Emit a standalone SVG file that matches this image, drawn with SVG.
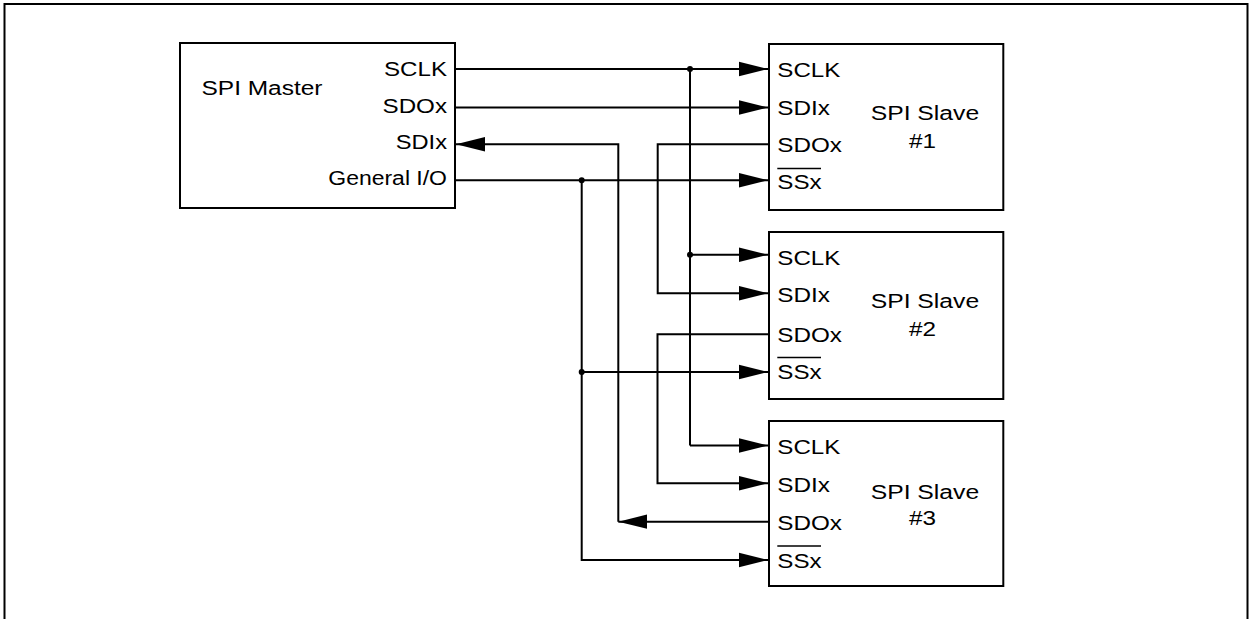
<svg xmlns="http://www.w3.org/2000/svg" width="1251" height="619" viewBox="0 0 1251 619">
<style>
  .box { fill: #ffffff; stroke: #000000; stroke-width: 2; }
  .frame { fill: none; stroke: #000000; stroke-width: 2; }
  .t { font-family: "Liberation Sans", Arial, Helvetica, sans-serif; font-size: 20px; fill: #000000; }
  .w { fill: none; stroke: #000000; stroke-width: 2; stroke-linejoin: miter; }
  .arr { fill: none; stroke: #000000; stroke-width: 2; marker-end: url(#ah); }
  .ov { stroke: #000000; stroke-width: 1.6; }
  .dot { fill: #000000; }
</style>
<defs>
  <marker id="ah" markerUnits="userSpaceOnUse" markerWidth="30" markerHeight="16" viewBox="0 0 30 16" refX="29" refY="8" orient="auto">
    <path d="M0,0.8 L29,8 L0,15.2 z" fill="#000000"/>
  </marker>
</defs>
<rect width="1251" height="619" fill="#ffffff"/>
<rect class="frame" x="4.5" y="4" width="1243" height="640"/>

<g id="connectors">
  <!-- SCLK bus -->
  <path class="arr" d="M455,69 H768"/>
  <path class="w" d="M690,69 V445.5"/>
  <path class="arr" d="M690,254.7 H768"/>
  <path class="arr" d="M690,445.5 H768"/>
  <circle class="dot" cx="690" cy="69" r="3"/>
  <circle class="dot" cx="690" cy="254.7" r="3"/>
  <!-- Master SDOx to Slave1 SDIx -->
  <path class="arr" d="M455,107.5 H768"/>
  <!-- Slave1 SDOx to Slave2 SDIx -->
  <path class="arr" d="M769,144.3 H657.7 V293.3 H768"/>
  <!-- Slave2 SDOx to Slave3 SDIx -->
  <path class="arr" d="M769,334.3 H657.5 V483.3 H768"/>
  <!-- Slave3 SDOx back to Master SDIx -->
  <path class="arr" d="M769,521.7 H618.3"/>
  <path class="arr" d="M618.3,521.7 V144.3 H456"/>
  <!-- General I/O to SSx -->
  <path class="arr" d="M455,180.3 H768"/>
  <path class="w" d="M581.7,180.3 V560 H620"/>
  <path class="arr" d="M581.7,560 H768"/>
  <path class="arr" d="M581.7,372 H768"/>
  <circle class="dot" cx="581.7" cy="180.3" r="3"/>
  <circle class="dot" cx="581.7" cy="372" r="3"/>
</g>

<g id="master">
  <rect class="box" x="180" y="43" width="275" height="165"/>
  <text class="t" x="201.5" y="95" textLength="121" lengthAdjust="spacingAndGlyphs">SPI Master</text>
  <text class="t" x="384" y="76" textLength="63" lengthAdjust="spacingAndGlyphs">SCLK</text>
  <text class="t" x="382.5" y="112.5" textLength="64.5" lengthAdjust="spacingAndGlyphs">SDOx</text>
  <text class="t" x="395.7" y="149" textLength="51.3" lengthAdjust="spacingAndGlyphs">SDIx</text>
  <text class="t" x="328.3" y="185" textLength="118.7" lengthAdjust="spacingAndGlyphs">General I/O</text>
</g>

<g id="slave1">
  <rect class="box" x="769" y="44" width="234.3" height="166"/>
  <text class="t" x="777.3" y="76.7" textLength="63" lengthAdjust="spacingAndGlyphs">SCLK</text>
  <text class="t" x="777.3" y="115" textLength="52.7" lengthAdjust="spacingAndGlyphs">SDIx</text>
  <text class="t" x="777.3" y="152.3" textLength="64.7" lengthAdjust="spacingAndGlyphs">SDOx</text>
  <text class="t" x="777.3" y="189.3" textLength="44.3" lengthAdjust="spacingAndGlyphs">SSx</text>
  <line class="ov" x1="777.3" y1="168.5" x2="821" y2="168.5"/>
  <text class="t" x="870.7" y="119.5" textLength="108.5" lengthAdjust="spacingAndGlyphs">SPI Slave</text>
  <text class="t" x="909" y="147.5" textLength="27" lengthAdjust="spacingAndGlyphs">#1</text>
</g>

<g id="slave2">
  <rect class="box" x="769" y="232" width="234.3" height="167"/>
  <text class="t" x="777.3" y="265" textLength="63" lengthAdjust="spacingAndGlyphs">SCLK</text>
  <text class="t" x="777.3" y="302.3" textLength="52.7" lengthAdjust="spacingAndGlyphs">SDIx</text>
  <text class="t" x="777.3" y="342.3" textLength="64.7" lengthAdjust="spacingAndGlyphs">SDOx</text>
  <text class="t" x="777.3" y="379.3" textLength="44.3" lengthAdjust="spacingAndGlyphs">SSx</text>
  <line class="ov" x1="777.3" y1="357.5" x2="821" y2="357.5"/>
  <text class="t" x="870.7" y="307.8" textLength="108.5" lengthAdjust="spacingAndGlyphs">SPI Slave</text>
  <text class="t" x="909" y="336" textLength="27" lengthAdjust="spacingAndGlyphs">#2</text>
</g>

<g id="slave3">
  <rect class="box" x="769" y="421" width="234.3" height="165"/>
  <text class="t" x="777.3" y="454.3" textLength="63" lengthAdjust="spacingAndGlyphs">SCLK</text>
  <text class="t" x="777.3" y="491.7" textLength="52.7" lengthAdjust="spacingAndGlyphs">SDIx</text>
  <text class="t" x="777.3" y="530" textLength="64.7" lengthAdjust="spacingAndGlyphs">SDOx</text>
  <text class="t" x="777.3" y="567.7" textLength="44.3" lengthAdjust="spacingAndGlyphs">SSx</text>
  <line class="ov" x1="777.3" y1="546" x2="821" y2="546"/>
  <text class="t" x="870.7" y="499.3" textLength="108.5" lengthAdjust="spacingAndGlyphs">SPI Slave</text>
  <text class="t" x="909" y="525" textLength="27" lengthAdjust="spacingAndGlyphs">#3</text>
</g>
</svg>
